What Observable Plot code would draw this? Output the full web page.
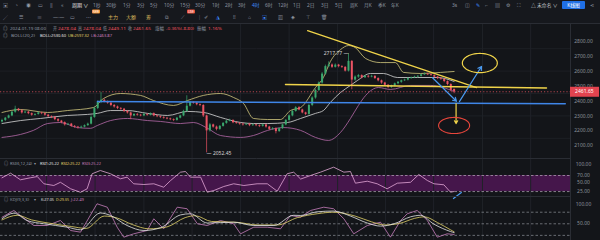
<!DOCTYPE html>
<html><head><meta charset="utf-8">
<script src="https://cdn.jsdelivr.net/npm/d3@7"></script>
<script src="https://cdn.jsdelivr.net/npm/@observablehq/plot@0.6"></script>
<style>
html,body{margin:0;padding:0;background:#131519;}
#root{position:relative;width:600px;height:240px;overflow:hidden;background:#131519;}
.pane{position:absolute;left:0;z-index:1;}
svg{display:block}
</style></head><body><div id="root"></div>
<script>
// ---------- DATA ----------
const open = [2260,2270,2285,2300,2325,2345,2335,2320,2325,2315,2305,2310,2320,2315,2305,2295,2290,2275,2265,2255,2240,2245,2230,2225,2220,2225,2235,2245,2290,2350,2390,2405,2395,2385,2370,2360,2350,2345,2330,2320,2300,2310,2305,2300,2310,2305,2315,2300,2295,2290,2285,2280,2275,2270,2285,2300,2330,2365,2390,2385,2375,2370,2300,2200,2240,2225,2210,2230,2250,2265,2270,2255,2250,2245,2240,2245,2235,2240,2235,2230,2240,2225,2210,2215,2195,2215,2240,2270,2300,2330,2355,2340,2320,2310,2370,2420,2470,2520,2580,2630,2640,2625,2640,2630,2625,2600,2665,2540,2560,2570,2555,2565,2560,2565,2550,2535,2520,2505,2490,2500,2515,2525,2535,2540,2550,2555,2560,2565,2575,2580,2575,2570,2560,2550,2545,2530,2510,2478.04];
const close = [2270,2285,2300,2325,2345,2335,2320,2325,2315,2305,2310,2320,2315,2305,2295,2290,2275,2265,2255,2240,2245,2230,2225,2220,2225,2235,2245,2290,2350,2390,2405,2395,2385,2370,2360,2350,2345,2330,2320,2300,2310,2305,2300,2310,2305,2315,2300,2295,2290,2285,2280,2275,2270,2285,2300,2330,2365,2390,2385,2375,2370,2300,2200,2240,2225,2210,2230,2250,2265,2270,2255,2250,2245,2240,2245,2235,2240,2235,2230,2240,2225,2210,2215,2195,2215,2240,2270,2300,2330,2355,2340,2320,2310,2370,2420,2470,2520,2580,2630,2640,2625,2640,2630,2625,2600,2665,2540,2560,2570,2555,2565,2560,2565,2550,2535,2520,2505,2490,2500,2515,2525,2535,2540,2550,2555,2560,2565,2575,2580,2575,2570,2560,2550,2545,2530,2510,2470.45,2461.65];
const high = [2278,2290,2306,2330,2365,2350,2342,2332,2330,2320,2315,2326,2324,2320,2310,2300,2296,2282,2270,2260,2250,2250,2236,2230,2232,2240,2252,2300,2360,2400,2458,2412,2400,2392,2376,2366,2356,2350,2336,2325,2316,2316,2310,2318,2314,2320,2320,2305,2300,2294,2290,2285,2280,2290,2305,2338,2435,2398,2395,2390,2380,2375,2305,2250,2245,2232,2236,2256,2270,2278,2275,2260,2255,2250,2250,2250,2245,2244,2240,2245,2244,2230,2222,2220,2220,2245,2276,2306,2336,2362,2362,2345,2325,2378,2428,2478,2528,2590,2640,2662,2648,2648,2645,2636,2630,2717.77,2670,2568,2578,2575,2570,2570,2572,2568,2555,2540,2525,2510,2506,2520,2530,2540,2546,2556,2560,2566,2570,2580,2588,2585,2580,2575,2565,2556,2548,2534,2515,2478.04];
const low = [2252,2262,2280,2295,2318,2328,2312,2315,2308,2298,2300,2305,2308,2298,2288,2282,2268,2258,2248,2232,2236,2224,2218,2212,2215,2220,2230,2240,2284,2342,2382,2388,2378,2362,2352,2342,2338,2322,2312,2275,2295,2298,2294,2295,2298,2300,2294,2288,2282,2278,2274,2268,2262,2265,2280,2295,2325,2360,2378,2368,2362,2290,2052.45,2192,2218,2200,2204,2225,2244,2260,2248,2244,2238,2232,2235,2228,2230,2228,2222,2225,2218,2202,2205,2180,2190,2210,2234,2265,2294,2325,2334,2314,2302,2305,2362,2412,2462,2512,2572,2622,2618,2620,2622,2618,2594,2594,2475,2532,2552,2548,2550,2553,2555,2544,2528,2512,2498,2482,2484,2494,2508,2518,2530,2534,2545,2550,2555,2560,2570,2570,2565,2553,2543,2538,2522,2502,2462,2449.11];

// Bollinger bands read at sample points: [candle index, price]
const bollUpper = [[0,2323],[5.6,2343],[13.8,2323],[19.8,2336],[27.7,2356],[30.8,2417],[35.9,2450],[42,2437],[45.9,2403],[52,2370],[56.2,2403],[61,2437],[66.2,2450],[70.2,2423],[73.2,2383],[76.2,2283],[80.5,2276],[84.4,2276],[87.4,2336],[90.5,2356],[95,2490],[97.4,2557],[99.5,2664],[102.6,2744],[105,2771],[107,2758],[110.2,2684],[114.7,2657],[119.2,2657],[121.7,2591],[126.8,2584],[132.9,2591],[137,2597.32]];
const bollMid = [[0,2249],[5.6,2269],[11.7,2283],[19.8,2303],[25.9,2310],[28.9,2317],[32.9,2336],[38,2336],[44.1,2317],[50.2,2303],[56.2,2330],[61.1,2323],[66.2,2290],[72.3,2256],[76.2,2249],[80.5,2249],[86.5,2256],[90.5,2283],[95,2317],[97.4,2336],[99.5,2390],[102.6,2457],[105.6,2504],[107.7,2537],[111.7,2584],[115.6,2584],[119.8,2557],[125.9,2557],[132,2557],[137,2530.60]];
const bollLower = [[0,2156],[5.6,2176],[9.5,2203],[13.8,2249],[17.7,2256],[22.9,2222],[26.8,2217],[28.9,2236],[32.9,2269],[38,2283],[44.1,2269],[48,2263],[54.1,2249],[58,2256],[62.3,2217],[66.2,2169],[72.3,2156],[76.2,2169],[80.5,2203],[85.3,2222],[90.5,2203],[95,2156],[98.9,2136],[102.6,2190],[105.6,2283],[108,2370],[110.2,2437],[114.1,2490],[117.7,2477],[123.8,2504],[129.8,2504],[137,2463.87]];

// RSI and KDJ read at sample points: [candle index, value]
const rsi = [[0,63.6],[2.6,76.5],[5.6,58],[8.6,63.6],[10.7,67],[12.7,46.8],[15.7,42],[17.7,51],[20.8,32.8],[23.8,23],[25.8,32.8],[27.3,74.8],[29.8,84],[32.9,74.8],[35.9,60.8],[37.9,65.3],[39.9,46.8],[43,44.8],[46,46.8],[49,37.3],[51.1,56],[54.1,79.3],[55.6,81.2],[57.1,65.3],[60.2,65.3],[62.2,23.3],[64.2,28],[67.2,39.2],[70.2,46.8],[73.3,42],[77.3,46.8],[80.4,46.8],[83.4,26],[86.4,74.8],[88.4,79.3],[90.5,60],[93.5,70],[96.5,79.3],[100.5,93.3],[103.6,79.3],[105.6,81.2],[107.1,48.5],[110.7,54],[113.7,46.8],[116.7,32.8],[119.8,48.5],[123.8,51],[126.3,72.8],[128.9,56],[130.9,46.8],[133.9,44],[135.9,23.3],[137,25.22]];
const kdjK = [[0,63],[3.6,77.5],[7.6,58.5],[12.7,50],[19.8,41.2],[23.8,34.4],[29.8,78],[32.9,71.5],[37.9,45.6],[43,32.6],[48,39.6],[54.1,73],[57.1,76],[62.2,52],[70.2,54.1],[76.3,45.6],[82.4,45.6],[88.4,72],[90.5,71.5],[95.5,81],[100.5,83],[105.6,70],[110.7,52],[114.7,44],[118.8,50],[123.8,68],[126.8,72],[130.9,49],[135.9,30],[137,27.05]];
const kdjD = [[0,60],[4.6,72],[9,60],[14,52],[21,43],[25.5,38],[31,70],[34.5,66],[39.5,48],[44.5,37],[50,42],[55.5,66],[58.5,71],[63.5,56],[71,54],[77.5,47],[83.5,47],[89.5,66],[95.5,76],[100.5,80],[107,70],[112,55],[116,47],[120.5,51],[125,64],[128,68],[132,53],[136,34],[137,29.35]];
const kdjJ = [[0,67],[3.6,84.5],[5.6,71.5],[9.6,45.6],[13.7,45.6],[17.7,58.5],[20.8,32.6],[23.8,28.3],[28.8,101.8],[31.9,93],[34.9,41.2],[36.9,15.3],[39.9,24],[44,32.6],[46,63],[49,37],[53.1,93],[56.1,88.9],[59.2,50],[62.2,45.6],[66.2,58.5],[70.2,50],[72.3,24],[76.3,41.2],[80.4,41.2],[84.4,37],[87.4,71.5],[90.5,67],[93.5,84.5],[97.5,93],[100.5,88.9],[103.6,63],[106.6,24],[110.7,45.6],[114.7,54.1],[117.7,15.3],[120.8,58.5],[122.8,75.9],[125.8,84.5],[128.9,58.5],[131.9,15.3],[134.9,24],[137,22.49]];

// Drawn annotations (candle index, price)
const trendLine = [{i:92.6,p:2871},{i:143.8,p:2490}];
const supportLine = [{i:85.9,p:2510},{i:165,p:2487}];
const blueLine = [{i:28.9,p:2396},{i:170.7,p:2381}];
const blueArrows = [{i1:130.4,p1:2557,i2:137.7,p2:2398},{i1:138.6,p1:2396,i2:145.3,p2:2631}];
const yellowArrow = [{i1:137.6,p1:2383,i2:137.6,p2:2249}];
const yellowEllipse = {ci:144.8,cp:2654,ri:5.3,rp:64};
const redEllipse = {ci:137,cp:2236,ri:4.7,rp:54};
const rsiSlash = [[136.8,5.6],[139.2,22.4]];

// Labels
const lastClose = 2461.65;
const peak = {i:105,p:2717.77};
const trough = {i:62,p:2052.45};
const priceTicks = [2100,2200,2300,2400,2500,2600,2700,2800];
const rsiTicks = [100,70,50,25];
const kdjTicks = [100,50];
const periods = ["1秒","30秒","1分","3分","5分","10分","15分","30分","1时","2时","3时","4时","6时","12时","1日","2日","3日","5日","周K","月K","季K","年K"];
const activePeriod = "4时";
const info = [["开","2478.04"],["高","2478.04"],["低","2449.11"],["收","2461.65"],["涨幅","-0.36%(-8.80)"],["振幅","1.16%"]];
const infoDate = "2024-01-19 08:00";
const bollName = "BOLL(20,2)";
const bollLabels = [["BOLL:2530.60","#e6e6e6"],["UB:2597.32","#e3d36a"],["LB:2463.87","#c77dbb"]];
const rsiName = "RSI(6,12,24)";
const rsiLabels = [["RSI1:25.22","#e6e6e6"],["RSI2:25.22","#e3d36a"],["RSI3:25.22","#c77dbb"]];
const kdjName = "KDJ(9,3,3)";
const kdjLabels = [["K:27.05","#e6e6e6"],["D:29.35","#e3d36a"],["J:22.49","#c77dbb"]];
const gridIdx = [13.5,28.2,43,57.6,72.3,87,101.7,116.2,130.8,145.6,160.2];
const priceGrid = [2750,2600,2450,2300,2150];

// ---------- LAYOUT ----------
const root = document.getElementById("root");
const UP = "#3aa86e", DOWN = "#ec5464", GRID = "#1f2228", AXC = "#8a909a";
const FONT = '"Noto Sans","Noto Sans CJK SC",sans-serif';
const XD = [-1.5/3.3, (570-1.5)/3.3];
const candles = close.map((c,i)=>({i, open:open[i], high:high[i], low:low[i], close:c}));
const col = d => d.close >= d.open ? UP : DOWN;
const pts = a => a.map(([i,v])=>({i,v}));
const ell = e => d3.range(0,361,6).map(a=>({i:e.ci+e.ri*Math.cos(a*Math.PI/180), p:e.cp+e.rp*Math.sin(a*Math.PI/180)}));
const font = {fontFamily:FONT, fontSize:"5px", background:"transparent", color:AXC, overflow:"visible"};
function place(svg, top){ svg.classList.add("pane"); svg.style.top = top+"px"; root.appendChild(svg); }

const tb = document.createElement("div");
tb.style.cssText = "position:absolute;left:0;top:0;width:600px;height:23px;background:#16181d;border-bottom:1px solid #2a2d34;z-index:0";
root.appendChild(tb);

// Main price pane: page y 24..158
const main = Plot.plot({
  width:600, height:134, marginLeft:0, marginRight:30, marginTop:0, marginBottom:0,
  style:font,
  x:{domain:XD, axis:null},
  y:{domain:[2015.0, 2911.8], axis:null},
  marks:[
    Plot.gridX(gridIdx,{stroke:GRID, strokeOpacity:1}),
    Plot.gridY(priceGrid,{stroke:GRID, strokeOpacity:0.8}),
    Plot.frame({anchor:"right", stroke:"#2a2d34"}),
    Plot.line(pts(bollUpper),{x:"i",y:"v",stroke:"#d3c97f",strokeWidth:0.8,curve:"monotone-x"}),
    Plot.line(pts(bollMid),{x:"i",y:"v",stroke:"#d8d8d8",strokeWidth:0.8,curve:"monotone-x"}),
    Plot.line(pts(bollLower),{x:"i",y:"v",stroke:"#b66aa9",strokeWidth:0.8,curve:"monotone-x"}),
    Plot.ruleX(candles,{x:"i",y1:"low",y2:"high",stroke:col,strokeWidth:0.7}),
    Plot.ruleX(candles,{x:"i",y1:"open",y2:"close",stroke:col,strokeWidth:2}),
    Plot.ruleY([lastClose],{stroke:"#d8505c",strokeDasharray:"1.2,2",strokeWidth:0.8}),
    Plot.line(blueLine,{x:"i",y:"p",stroke:"#3f86e8",strokeWidth:1.4}),
    Plot.line(supportLine,{x:"i",y:"p",stroke:"#f0d44a",strokeWidth:1.4}),
    Plot.line(trendLine,{x:"i",y:"p",stroke:"#f0d44a",strokeWidth:1.3}),
    Plot.arrow(blueArrows,{x1:"i1",y1:"p1",x2:"i2",y2:"p2",stroke:"#4a9af0",strokeWidth:1.2,headLength:5}),
    Plot.arrow(yellowArrow,{x1:"i1",y1:"p1",x2:"i2",y2:"p2",stroke:"#f0d44a",strokeWidth:1.2,headLength:4}),
    Plot.line(ell(yellowEllipse),{x:"i",y:"p",stroke:"#f0d44a",strokeWidth:1.2}),
    Plot.line(ell(redEllipse),{x:"i",y:"p",stroke:"#e8463c",strokeWidth:1.1}),
    Plot.text([peak],{x:"i",y:"p",text:d=>d.p.toFixed(2)+" —",textAnchor:"end",fill:"#d4d4d4",fontSize:5}),
    Plot.text([trough],{x:"i",y:"p",text:d=>"— "+d.p.toFixed(2),textAnchor:"start",fill:"#d4d4d4",fontSize:5}),
    Plot.axisY(priceTicks,{anchor:"right",tickSize:0,tickPadding:13,textAnchor:"middle",tickFormat:d=>d.toFixed(2),color:AXC,fontSize:5,label:null}),
    Plot.ruleY([lastClose],{x1:()=>XD[1],x2:()=>XD[1]+8.8,stroke:"#e2434f",strokeWidth:10}),
    Plot.text([lastClose],{x:()=>XD[1]+4.2,y:d=>d,text:d=>d.toFixed(2),fill:"#ffffff",fontSize:5})
  ]
});
place(main, 24);

// RSI pane: page y 158..196
const rsiPlot = Plot.plot({
  width:600, height:38, marginLeft:0, marginRight:30, marginTop:0, marginBottom:0,
  style:font,
  x:{domain:XD, axis:null},
  y:{domain:[11.2,117.6], axis:null},
  marks:[
    Plot.rect([{a:25,b:70}],{y1:"a",y2:"b",fill:"#45164b"}),
    Plot.gridX(gridIdx,{stroke:GRID, strokeOpacity:1}),
    Plot.ruleY([70,25],{stroke:"#b9aebd",strokeDasharray:"2.5,2",strokeWidth:0.7}),
    Plot.frame({anchor:"top", stroke:"#2a2d34"}),
    Plot.frame({anchor:"right", stroke:"#2a2d34"}),
    Plot.line(pts(rsi),{x:"i",y:"v",stroke:"#e2a6d6",strokeWidth:0.8}),
    Plot.line(pts(rsiSlash),{x:"i",y:"v",stroke:"#4a9af0",strokeWidth:1.2}),
    Plot.axisY(rsiTicks,{anchor:"right",tickSize:0,tickPadding:13,textAnchor:"middle",tickFormat:d=>d.toFixed(2),color:AXC,fontSize:5,label:null})
  ]
});
place(rsiPlot, 158);

// KDJ pane: page y 196..240
const kdjPlot = Plot.plot({
  width:600, height:44, marginLeft:0, marginRight:30, marginTop:0, marginBottom:0,
  style:font,
  x:{domain:XD, axis:null},
  y:{domain:[6.7,120.7], axis:null},
  marks:[
    Plot.gridX(gridIdx,{stroke:GRID, strokeOpacity:1}),
    Plot.ruleY([80,50,20],{stroke:"#8e9299",strokeDasharray:"2.5,2",strokeWidth:0.7}),
    Plot.frame({anchor:"top", stroke:"#2a2d34"}),
    Plot.frame({anchor:"right", stroke:"#2a2d34"}),
    Plot.line(pts(kdjJ),{x:"i",y:"v",stroke:"#c77dbb",strokeWidth:0.8}),
    Plot.line(pts(kdjD),{x:"i",y:"v",stroke:"#e3d36a",strokeWidth:0.8,curve:"monotone-x"}),
    Plot.line(pts(kdjK),{x:"i",y:"v",stroke:"#e6e6e6",strokeWidth:0.8,curve:"monotone-x"}),
    Plot.axisY(kdjTicks,{anchor:"right",tickSize:0,tickPadding:13,textAnchor:"middle",tickFormat:d=>d.toFixed(2),color:AXC,fontSize:5,label:null})
  ]
});
place(kdjPlot, 196);

// ---------- TOOLBAR & LEGEND TEXT (SVG overlay, real text) ----------
const ov = d3.select(root).append("svg")
  .attr("width",600).attr("height",240)
  .style("position","absolute").style("left","0px").style("top","0px").style("z-index",5)
  .style("pointer-events","none").style("font-family",FONT);
function T(x, y, s, color, size=5, w=null){
  const t = ov.append("text").attr("x",x).attr("y",y).attr("dominant-baseline","central")
    .attr("fill",color).attr("font-size",size).text(s);
  if (w) t.attr("textLength",w).attr("lengthAdjust","spacingAndGlyphs");
  return t;
}
function badge(x, y, w, h, fill){ ov.append("rect").attr("x",x).attr("y",y).attr("width",w).attr("height",h).attr("rx",1).attr("fill",fill); }
const GREY = "#8f96a2", GOLD = "#d9b65c", BLUE = "#3d8bfd", VAL = "#e8505c";
// row 1
["▣","◔","◉","▭","‖","«"].forEach((g,k)=>T([3,15,26,38,50,61][k],5,g,GREY,5));
T(72,5,"周期 ∨","#e8e8e8",5);
const pX = [93,106,123,137,150,164,180,195,212,225,238,252,265,278,293,307,321,335,350,364,378,391];
periods.forEach((p,k)=>T(pX[k],5,p,p===activePeriod?BLUE:GREY,4.8));
["3s","◫","✎","⌐","▤","⚙","⛶"].forEach((g,k)=>T([452,465,476,485,495,506,517][k],5,g,g==="✎"?BLUE:GREY,5));
T(531,5,"△ 未命名 ∨","#c9ccd2",4.8);
badge(562,1,23,8,"#1f6fe5");
T(573.5,5,"K线图","#ffffff",4.8).attr("text-anchor","middle");
T(590,5,"⋖",GREY,5);
// row 2
["╱","☰","≡","—·—","▭","⋯"].forEach((g,k)=>T([3,19,37,53,70,86][k],17,g,GREY,5));
badge(92,9.5,8,4,"#f08a2c"); T(96,11.5,"NEW","#fff",2.8).attr("text-anchor","middle");
T(108,17,"主力",GOLD,5); T(126,17,"大额",GOLD,5); T(146,17,"筹",GOLD,5);
["⧉","⟋","│","✐","◮","⁞⁞","⌂","▣","▨","◈","⊤","🗑"].forEach((g,k)=>T([165,181,197,204,216,233,248,262,278,291,306,321][k],17,g,(g==="◮"||g==="▣")?BLUE:GREY,5));
badge(187,9.5,8,4,"#e8503a"); T(191,11.5,"LIVE","#fff",2.8).attr("text-anchor","middle");
// info row (x, width)
T(3,28,"◎",GREY,4.6);
T(10,28,infoDate,GREY,4.2,36);
const infoK = [[53,4],[78,4],[103,4],[128,4],[155,9],[197,9]];
const infoV = [[58,18],[83,18],[108,18],[133,18],[166,28],[208,14]];
info.forEach(([k,v],j)=>{T(infoK[j][0],28,k,GREY,4.2,infoK[j][1]); T(infoV[j][0],28,v,VAL,4.2,infoV[j][1]);});
// BOLL row
T(3,35,"◎",GREY,4.6);
T(11,35,bollName,GREY,3.8,24);
const bX=[[40,26],[68,21],[91,21]];
bollLabels.forEach(([s,c],j)=>T(bX[j][0],35,s,c,3.8,bX[j][1]));
// RSI row
T(4,163,"◎",GREY,4.2); T(10,163,rsiName,GREY,3.6,22); T(34,163,"▾",GREY,3.6);
const rX=[[40,19],[61,19],[82,19]];
rsiLabels.forEach(([s,c],j)=>T(rX[j][0],163,s,c,3.6,rX[j][1]));
// KDJ row
T(4,199,"◎",GREY,4.2); T(10,199,kdjName,GREY,3.6,19); T(34,199,"▾",GREY,3.6);
const kX=[[41,13],[56,13],[71,13]];
kdjLabels.forEach(([s,c],j)=>T(kX[j][0],199,s,c,3.6,kX[j][1]));
</script></body></html>
